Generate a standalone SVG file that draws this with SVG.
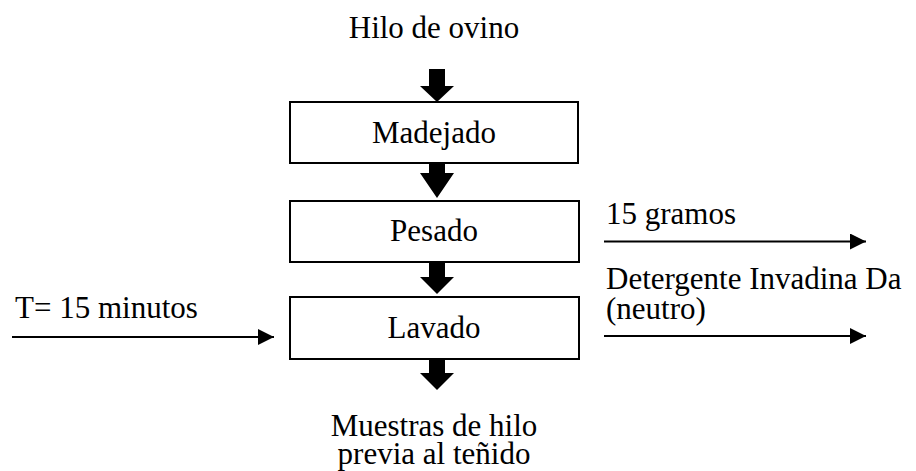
<svg xmlns="http://www.w3.org/2000/svg" width="916" height="471" viewBox="0 0 916 471">
<defs>
<style>
text{font-family:"Liberation Serif","Times New Roman",serif;font-size:31px;fill:#000}
.c{text-anchor:middle}
.box{fill:#fff;stroke:#000;stroke-width:2}
.ln{stroke:#000;stroke-width:2;fill:none}
.blk{fill:#000}
</style>
<marker id="ah" markerWidth="16" markerHeight="16" refX="16" refY="8" orient="auto" markerUnits="userSpaceOnUse"><path d="M0,0 L16,8 L0,16 Z" fill="#000"/></marker>
</defs>
<rect width="916" height="471" fill="#fff"/>
<g id="input"><text class="c" x="434" y="38">Hilo de ovino</text></g>
<g id="connectors">
<path class="blk" d="M429,69 H445 V86 H454 L437,102 L420,86 H429 Z"/>
<path class="blk" d="M429,163 H445 V173 H454 L437,198 L420,173 H429 Z"/>
<path class="blk" d="M429,262 H445 V277 H454 L437,294 L420,277 H429 Z"/>
<path class="blk" d="M429,359 H445 V373 H454 L437,390 L420,373 H429 Z"/>
<line class="ln" x1="12" y1="337" x2="274" y2="337" marker-end="url(#ah)"/>
<line class="ln" x1="604" y1="241.5" x2="866" y2="241.5" marker-end="url(#ah)"/>
<line class="ln" x1="604" y1="336" x2="866" y2="336" marker-end="url(#ah)"/>
</g>
<g id="madejado"><rect class="box" x="290" y="102" width="288" height="61"/><text class="c" x="434" y="143">Madejado</text></g>
<g id="pesado"><rect class="box" x="290" y="201" width="289" height="61"/><text class="c" x="434" y="241">Pesado</text></g>
<g id="lavado"><rect class="box" x="290" y="297" width="289" height="62"/><text class="c" x="434" y="338">Lavado</text></g>
<g id="tiempo"><text x="15" y="318">T= 15 minutos</text></g>
<g id="gramos"><text x="606" y="224">15 gramos</text></g>
<g id="detergente"><text x="606" y="289">Detergente Invadina Da</text><text x="606" y="319">(neutro)</text></g>
<g id="output"><text class="c" x="434" y="436">Muestras de hilo</text><text class="c" x="434" y="464">previa al teñido</text></g>
</svg>
